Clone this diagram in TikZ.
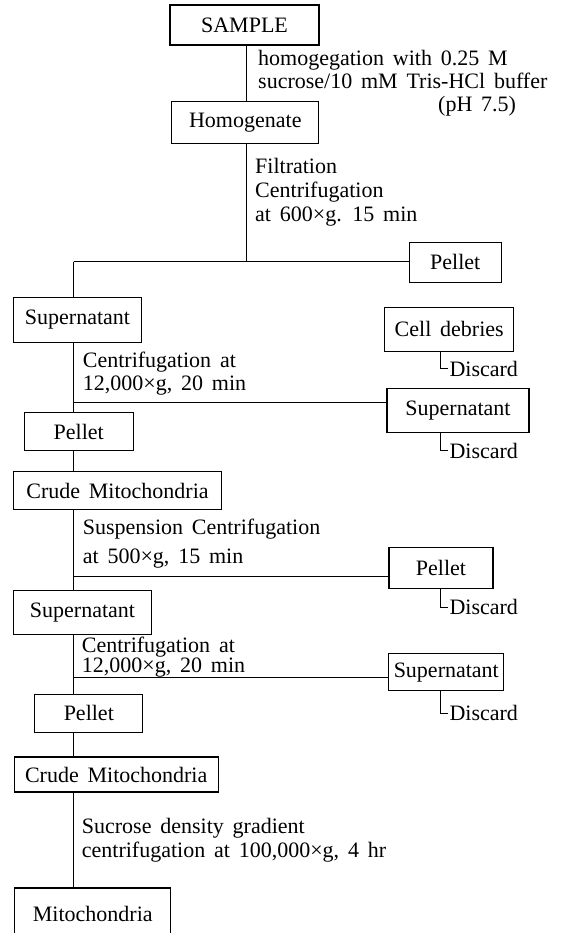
\documentclass[tikz,border=0pt]{standalone}
\usepackage{fontspec}
\setmainfont{Liberation Serif}[WordSpace=1.6]
\usetikzlibrary{positioning}

\begin{document}
\begin{tikzpicture}[
    % Environment Config
    x=1pt, y=-1pt,
    font=\fontsize{22}{26}\selectfont,
    Box/.style n args={2}{% Style for the fraction boxes
      draw,
      line width=1.3pt,
      inner sep=0pt,
      minimum width=#1,
      minimum height=#2
    },
    Wire/.style={% Style for the connectors
      line width=1pt
    },
    Note/.style={% Style for the step notes
      anchor=west,
      align=left,
      inner sep=0pt,
      font=\fontsize{22}{#1}\selectfont
    }
  ]

  \def\MyDiscard(#1)#2{% Discard hook under a box
    \draw[Wire] (#1.south -| hookx)
        --++(0,#2) coordinate (#1 hook)
        --++(8,0)
        node[anchor=west, inner sep=1pt](#1 discard){Discard};
  }

  % Frame of the picture
  \clip (0,0) rectangle (566,933);

  % Put some reference points
  \coordinate (top) at (246.7,0);
  \coordinate (hookx) at (440,0);
  \coordinate (J1) at (73.5,261.5);
  \coordinate (J2) at (73.5,402.3);
  \coordinate (J3) at (73.5,576);
  \coordinate (J4) at (73.5,677.3);

  % Put the boxes in position
  \node[Box={149}{40}] (sample) at (244.5,25) {SAMPLE};
  \node[Box={147}{42}] (homog) at (245.3,122.2) {Homogenate};
  \node[Box={92}{40}] (pellet1) at (455.2,262.3) {Pellet};
  \node[Box={128}{45}] (super1) at (77.5,319.8) {Supernatant};
  \node[Box={129}{44}] (debris) at (449.2,329.3) {Cell debries};
  \node[Box={142}{44}] (super2) at (458,410.2) {Supernatant};
  \node[Box={109}{38}] (pellet2) at (78.7,431.5) {Pellet};
  \node[Box={208}{38}] (crude1) at (117.5,490.5) {Crude Mitochondria};
  \node[Box={104}{41}] (pellet3) at (441,568.3) {Pellet};
  \node[Box={138}{44}] (super3) at (82.5,612.7) {Supernatant};
  \node[Box={115}{37}] (super4) at (446.3,672.3) {Supernatant};
  \node[Box={108}{38}] (pellet4) at (88.8,713.2) {Pellet};
  \node[Box={204}{35}] (crude2) at (116.2,774.5) {Crude Mitochondria};
  \node[Box={156}{52}] (mito) at (92.8,914) {Mitochondria};

  % Draw the Wires
  \draw[Wire]
  (sample.south -| top)
      -- (homog.north -| top)
  (homog.south -| top)
      -- (J1 -| top)
  (J1)
      -- (J1 -| pellet1.west)
  (J1)
      -- (super1.north -| J1)
  (super1.south -| J1)
      -- (pellet2.north -| J1)
  (J2)
      -- (J2 -| super2.west)
  (pellet2.south -| J1)
      -- (crude1.north -| J1)
  (crude1.south -| J1)
      -- (super3.north -| J1)
  (J3)
      -- (J3 -| pellet3.west)
  (super3.south -| J1)
      -- (pellet4.north -| J1)
  (J4)
      -- (J4 -| super4.west)
  (pellet4.south -| J1)
      -- (crude2.north -| J1)
  (crude2.south -| J1)
      -- (mito.north -| J1);

  % Discard hooks
  \MyDiscard(debris){17}
  \MyDiscard(super2){18}
  \MyDiscard(pellet3){18}
  \MyDiscard(super4){22}

  % Step notes
  %===Homogenation===
  \node[Note=23.3] (stepHom) at (258,83.1)
      {homogegation with 0.25 M\\
       sucrose/10 mM Tris-HCl buffer\\
       \hspace*{180pt}(pH 7.5)};

  %===Filtration===
  \node[Note=24.2] (stepFilt) at (255,192.3)
      {Filtration\\Centrifugation\\at 600×g. 15 min};

  %===First spin===
  \node[Note=23.4] (stepSpinA) at (82.7,373.8)
      {Centrifugation at\\12,000×g, 20 min};

  %===Suspension===
  \node[Note=29] (stepSusp) at (82.7,543.3)
      {Suspension Centrifugation\\at 500×g, 15 min};

  %===Second spin===
  \node[Note=20] (stepSpinB) at (81.7,656.8)
      {Centrifugation at\\12,000×g, 20 min};

  %===Gradient===
  \node[Note=24] (stepGrad) at (81.7,839.8)
      {Sucrose density gradient\\centrifugation at 100,000×g, 4 hr};

\end{tikzpicture}
\end{document}
